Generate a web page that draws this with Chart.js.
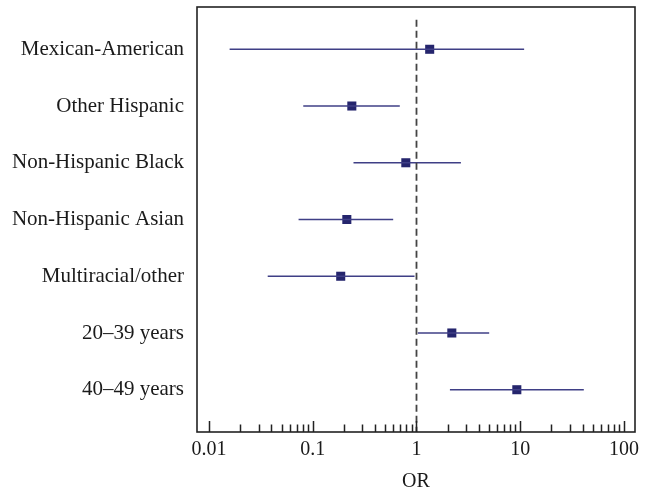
<!DOCTYPE html>
<html><head><meta charset="utf-8">
<script src="https://cdn.jsdelivr.net/npm/chart.js@4/dist/chart.umd.min.js"></script>
<style>html,body{margin:0;padding:0;background:#fff}#wrap{width:651px;height:492px}</style>
</head><body><div id="wrap"><canvas id="c" width="651" height="492"></canvas></div>
<script>
const categories = ['Mexican-American','Other Hispanic','Non-Hispanic Black','Non-Hispanic Asian','Multiracial/other','20–39 years','40–49 years'];
const oddsRatio = [1.34, 0.238, 0.789, 0.213, 0.186, 2.19, 9.27];
const ciLower   = [0.0158, 0.081, 0.247, 0.073, 0.0368, 1.03, 2.1];
const ciUpper   = [10.9, 0.69, 2.68, 0.596, 0.957, 5.02, 41];
const xTickValues = [0.01, 0.1, 1, 10, 100];
const xTickLabels = ['0.01', '0.1', '1', '10', '100'];
const referenceValue = 1;

const FONT = 'Liberation Serif, Times New Roman, serif';
const TEXT = '#1a1a1a';

const datasets = [];
datasets.push({
  data: [{x: referenceValue, y: -0.52}, {x: referenceValue, y: 6.745}],
  showLine: true, borderColor: '#444', borderWidth: 1.8, borderDash: [7, 4],
  pointRadius: 0
});
categories.forEach((c, i) => {
  datasets.push({
    data: [{x: ciLower[i], y: i}, {x: ciUpper[i], y: i}],
    showLine: true, borderColor: '#3f3f86', borderWidth: 1.6, pointRadius: 0
  });
});
datasets.push({
  data: categories.map((c, i) => ({x: oddsRatio[i], y: i})),
  showLine: false, pointStyle: 'rect', pointRadius: 6.4,
  backgroundColor: '#25256d', borderWidth: 0
});

const framePlugin = {
  id: 'frame',
  afterDatasetsDraw(chart) {
    const {ctx, chartArea: a} = chart;
    const xs = chart.scales.x;
    ctx.save();
    ctx.strokeStyle = '#222';
    ctx.lineWidth = 1.5;
    ctx.beginPath();
    for (let e = -2; e <= 2; e++) {
      const kmax = e === 2 ? 1 : 9;
      for (let k = 1; k <= kmax; k++) {
        const v = k * Math.pow(10, e);
        const px = Math.round(xs.getPixelForValue(v)) + 0.5;
        const len = k === 1 ? 11 : 7.5;
        ctx.moveTo(px, a.bottom);
        ctx.lineTo(px, a.bottom - len);
      }
    }
    ctx.stroke();
    ctx.lineWidth = 1.6;
    ctx.strokeRect(a.left, a.top, a.right - a.left, a.bottom - a.top);
    ctx.restore();
  }
};

new Chart(document.getElementById('c'), {
  type: 'scatter',
  data: {datasets},
  plugins: [framePlugin],
  options: {
    responsive: false,
    animation: false,
    layout: {padding: {top: 7, right: 16, left: 0, bottom: 0}},
    plugins: {legend: {display: false}, tooltip: {enabled: false}},
    scales: {
      x: {
        type: 'logarithmic',
        min: 0.00766, max: 127.7,
        bounds: 'data',
        grid: {display: false, drawTicks: false},
        border: {display: false},
        afterBuildTicks: s => { s.ticks = xTickValues.map(v => ({value: v})); },
        ticks: {
          autoSkip: false, maxRotation: 0, padding: 6,
          font: {family: FONT, size: 20}, color: TEXT,
          callback: (v, i) => xTickLabels[i]
        },
        title: {display: true, text: 'OR', font: {family: FONT, size: 20, lineHeight: 1.0}, color: TEXT, padding: {top: 0, bottom: 0}},
        afterFit: s => { s.height = 60; s.paddingLeft = 0; s.paddingRight = 0; }
      },
      y: {
        type: 'linear',
        min: -0.745, max: 6.745,
        reverse: true,
        grid: {display: false, drawTicks: false},
        border: {display: false},
        afterBuildTicks: s => { s.ticks = categories.map((c, i) => ({value: i})); },
        ticks: {
          autoSkip: false, padding: 13,
          font: {family: FONT, size: 21}, color: TEXT,
          callback: v => categories[v]
        },
        afterFit: s => { s.width = 197; s.paddingTop = 0; s.paddingBottom = 0; }
      }
    }
  }
});
</script>
</body></html>
